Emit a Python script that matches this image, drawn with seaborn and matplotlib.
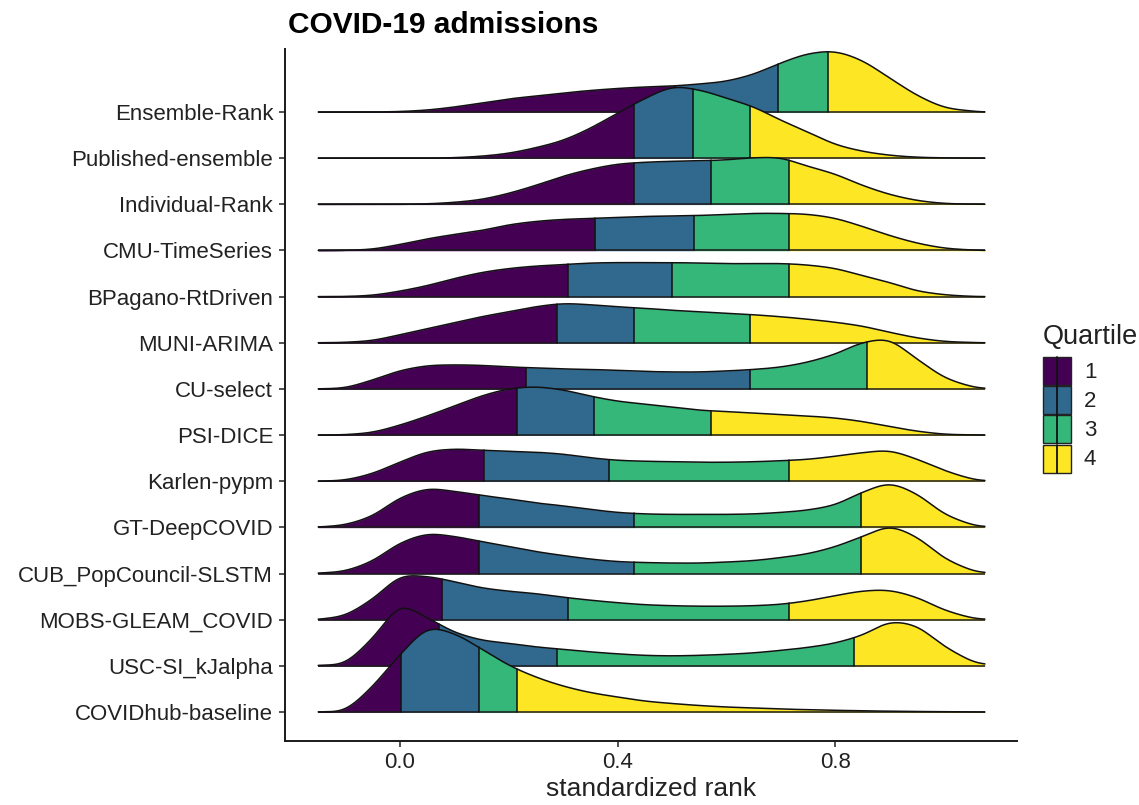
import numpy as np
import matplotlib
matplotlib.use("Agg")
import matplotlib.pyplot as plt
import seaborn as sns
from matplotlib.patches import Rectangle
from matplotlib.lines import Line2D

# ---------------- data ----------------
models = [
    "Ensemble-Rank", "Published-ensemble", "Individual-Rank", "CMU-TimeSeries",
    "BPagano-RtDriven", "MUNI-ARIMA", "CU-select", "PSI-DICE", "Karlen-pypm",
    "GT-DeepCOVID", "CUB_PopCouncil-SLSTM", "MOBS-GLEAM_COVID",
    "USC-SI_kJalpha", "COVIDhub-baseline",
]

rank_grid = [-0.15, -0.10, -0.05, 0.00, 0.05, 0.10, 0.15, 0.20, 0.25, 0.30,
             0.35, 0.40, 0.45, 0.50, 0.55, 0.60, 0.65, 0.70, 0.75, 0.80,
             0.85, 0.90, 0.95, 1.00, 1.05, 1.075]

# ridge heights (density, in pixels of the reference) at rank_grid
dens_ensemble_rank = [0, 0, 0, 0.5, 2, 5, 9, 13, 16, 19, 21.5, 23.5, 25, 26, 28, 31, 38, 49, 58, 60, 51, 34, 17, 5, 1, 0]
dens_published = [0, 0, 0, 0, 0, 0.5, 2, 5, 10.5, 18, 30, 45, 59.5, 70.5, 68, 60, 51, 38, 26, 14, 7, 3, 1, 0.3, 0, 0]
dens_individual = [0, 0, 0, 0, 0.5, 2, 5, 11, 19, 28, 35, 40, 42, 43, 43.5, 44.5, 46.5, 46, 38, 30, 19, 10, 4, 1, 0.2, 0]
dens_cmu = [0, 0.2, 1.5, 6, 11.5, 16, 20, 25.5, 29, 31, 32, 33, 34, 34.5, 35, 36, 37, 37, 36, 32, 24, 15, 7.5, 2.5, 0.5, 0]
dens_bpagano = [0, 0.2, 1.5, 5.5, 11, 18, 24, 28, 30.5, 32, 33.5, 34, 34, 34, 33.5, 33, 33, 33, 31.5, 28, 21, 14, 6, 2, 0.3, 0]
dens_muni = [0, 0.5, 2.5, 8, 14, 20, 26, 31, 36, 39, 38, 36, 34.5, 32.5, 31, 29.5, 28, 26, 23.5, 20.5, 16.5, 10.5, 5, 1.5, 0.3, 0]
dens_cu_select = [0, 1.5, 9, 18, 23, 24, 23.5, 22, 21, 20, 19.5, 18.5, 17.5, 17, 17, 18, 19.5, 22, 27, 35, 46, 48, 30, 12, 2.5, 0.5]
dens_psi_dice = [0, 0.5, 3, 10, 19, 29, 39, 46, 48, 45, 39, 34, 31, 28, 25, 23.5, 22, 20.5, 19, 17, 13.5, 8.5, 4, 1, 0.2, 0]
dens_karlen = [0, 1.5, 8, 19, 29, 32, 31, 30, 29, 27, 23.5, 21, 20, 19.5, 19, 19, 19.5, 20.5, 22, 25, 28.5, 30, 22, 11, 2.5, 0.5]
dens_gt = [0.3, 3, 12, 29, 38, 36, 32, 28.5, 24.5, 21.5, 18, 15, 13.5, 13, 13, 13, 13.5, 15, 17.5, 23, 35, 43, 33, 14, 3, 0.7]
dens_cub = [0.3, 3, 13, 30, 39, 37, 32, 27, 22, 18, 14.5, 12, 11, 10.5, 10.5, 11.5, 13, 16, 20, 27, 37, 46, 36, 16, 3.5, 0.8]
dens_mobs = [0.2, 5, 21, 42, 43, 38, 32, 28.5, 26, 22.5, 19.5, 17, 15, 14, 13.5, 13.5, 14, 15.5, 19, 24, 28.5, 29, 22, 10, 2, 0.4]
dens_usc = [0.3, 4, 28, 58, 48, 34, 26, 22.5, 19, 16.5, 14, 12, 10.5, 10, 10.5, 11.5, 13, 15.5, 18.5, 23, 31, 43, 39, 20, 5, 1.5]
dens_covidhub = [0, 3, 26, 57, 82, 78, 63, 47, 35, 26, 19.5, 15, 11, 8.5, 6.5, 5, 4, 3, 2.3, 1.7, 1.2, 0.8, 0.5, 0.3, 0.1, 0]

# quartile cut points (standardized rank)
q_ensemble_rank = [0.505, 0.694, 0.787]
q_published = [0.430, 0.539, 0.644]
q_individual = [0.430, 0.572, 0.715]
q_cmu = [0.359, 0.540, 0.715]
q_bpagano = [0.309, 0.500, 0.715]
q_muni = [0.288, 0.430, 0.644]
q_cu_select = [0.232, 0.644, 0.858]
q_psi_dice = [0.215, 0.357, 0.572]
q_karlen = [0.154, 0.385, 0.715]
q_gt = [0.145, 0.430, 0.848]
q_cub = [0.145, 0.430, 0.848]
q_mobs = [0.078, 0.309, 0.715]
q_usc = [0.072, 0.288, 0.835]
q_covidhub = [0.002, 0.145, 0.215]

quartile_labels = ["1", "2", "3", "4"]
x_ticks = [0.0, 0.4, 0.8]

densities = [dens_ensemble_rank, dens_published, dens_individual, dens_cmu,
             dens_bpagano, dens_muni, dens_cu_select, dens_psi_dice, dens_karlen,
             dens_gt, dens_cub, dens_mobs, dens_usc, dens_covidhub]
quartiles = [q_ensemble_rank, q_published, q_individual, q_cmu, q_bpagano,
             q_muni, q_cu_select, q_psi_dice, q_karlen, q_gt, q_cub, q_mobs,
             q_usc, q_covidhub]

# ---------------- style ----------------
sns.set_theme(style="ticks")
plt.rcParams["font.family"] = ["Liberation Sans", "DejaVu Sans"]
quart_colors = ["#440154", "#31688E", "#35B779", "#FDE725"]
TXT = "#222222"
LINE = "#111111"
ROW_PX = 46.15  # one ridge row in reference pixels


def hermite_curve(xk, yk, xn):
    """Cubic Hermite curve through the read points (rendering only)."""
    xk = np.asarray(xk, float)
    yk = np.asarray(yk, float)
    h = np.diff(xk)
    m = np.zeros_like(yk)
    m[1:-1] = (yk[2:] - yk[:-2]) / (xk[2:] - xk[:-2])
    m[0] = (yk[1] - yk[0]) / h[0]
    m[-1] = (yk[-1] - yk[-2]) / h[-1]
    idx = np.clip(np.searchsorted(xk, xn) - 1, 0, len(xk) - 2)
    t = (xn - xk[idx]) / h[idx]
    h00 = 2 * t**3 - 3 * t**2 + 1
    h10 = t**3 - 2 * t**2 + t
    h01 = -2 * t**3 + 3 * t**2
    h11 = t**3 - t**2
    out = h00 * yk[idx] + h10 * h[idx] * m[idx] + h01 * yk[idx + 1] + h11 * h[idx] * m[idx + 1]
    return np.clip(out, 0, None)


def ridge_profile(dens):
    xf = np.linspace(rank_grid[0], rank_grid[-1], 1226)
    yf = hermite_curve(rank_grid, dens, xf)
    step = xf[1] - xf[0]
    sig = 0.010 / step
    k = np.arange(-4 * int(sig), 4 * int(sig) + 1)
    ker = np.exp(-0.5 * (k / sig) ** 2)
    ker /= ker.sum()
    pad = len(k) // 2
    yp = np.concatenate([np.full(pad, yf[0]), yf, np.full(pad, yf[-1])])
    ys = np.convolve(yp, ker, mode="valid")
    return xf, ys


W, H = 1139, 805
fig = plt.figure(figsize=(W / 100, H / 100), dpi=100)
ax = fig.add_axes([285 / W, 1 - 741 / H, (1017 - 285) / W, (741 - 49) / H])

n = len(models)
for i, (name, dens, cuts) in enumerate(zip(models, densities, quartiles)):
    base = n - i
    z = 2 + 2 * i
    xf, yf = ridge_profile(dens)
    xs = np.union1d(xf, cuts)
    ys = base + np.interp(xs, xf, yf) / ROW_PX
    edges = [rank_grid[0]] + list(cuts) + [rank_grid[-1]]
    for q in range(4):
        mask = (xs >= edges[q]) & (xs <= edges[q + 1])
        ax.fill_between(xs[mask], base, ys[mask], facecolor=quart_colors[q],
                        edgecolor=quart_colors[q], linewidth=0.4, zorder=z)
    ax.plot([rank_grid[0], rank_grid[-1]], [base, base], color="#1a1a1a",
            lw=1.1, zorder=z + 0.5, solid_capstyle="butt")
    ax.plot(xs, ys, color=LINE, lw=1.1, zorder=z + 0.6)
    for c in cuts:
        top = base + np.interp(c, xf, yf) / ROW_PX
        ax.plot([c, c], [base, top], color=LINE, lw=1.1, zorder=z + 0.6)

ax.set_xlim(-0.211, 1.134)
ax.set_ylim(1 - 29 / ROW_PX, n + 63 / ROW_PX)
ax.set_yticks(range(1, n + 1))
ax.set_yticklabels(models[::-1])
ax.set_xticks(x_ticks)
ax.set_xticklabels([f"{t:.1f}" for t in x_ticks])
ax.tick_params(axis="both", labelsize=16, colors="#222222", labelcolor=TXT,
               length=4.5, width=1.1, pad=3.5, direction="out")
ax.tick_params(axis="y", pad=4)
sns.despine(ax=ax)
for s in ["left", "bottom"]:
    ax.spines[s].set_linewidth(1.4)
    ax.spines[s].set_color("#1a1a1a")
ax.grid(False)
ax.set_facecolor("white")
ax.set_xlabel("standardized rank", fontsize=19, color=TXT, labelpad=3)
ax.set_ylabel("")

fig.text(288 / W, 1 - 33 / H, "COVID-19 admissions", fontsize=21.5,
         fontweight="bold", color="black", ha="left", va="baseline")

# ---------------- legend (drawn as figure artists) ----------------
fig.text(1043 / W, 1 - 344 / H, "Quartile", fontsize=19.5, color=TXT,
         ha="left", va="baseline")
key_x, key_w, key_h, key_top, key_step = 1043, 28, 28, 357, 29.2
for j, (lab, col) in enumerate(zip(quartile_labels, quart_colors)):
    top = key_top + j * key_step
    fig.add_artist(Rectangle((key_x / W, 1 - (top + key_h) / H), key_w / W, key_h / H,
                             transform=fig.transFigure, facecolor=col,
                             edgecolor="#222222", linewidth=1.0))
    xm = (key_x + key_w / 2) / W
    fig.add_artist(Line2D([xm, xm], [1 - (top + key_h) / H, 1 - top / H],
                          transform=fig.transFigure, color=LINE, linewidth=1.3))
    fig.text((key_x + key_w + 13) / W, 1 - (top + key_h / 2 + 1) / H, lab,
             fontsize=16, color=TXT, ha="left", va="center")

fig.savefig("out.png", dpi=100, facecolor="white")
